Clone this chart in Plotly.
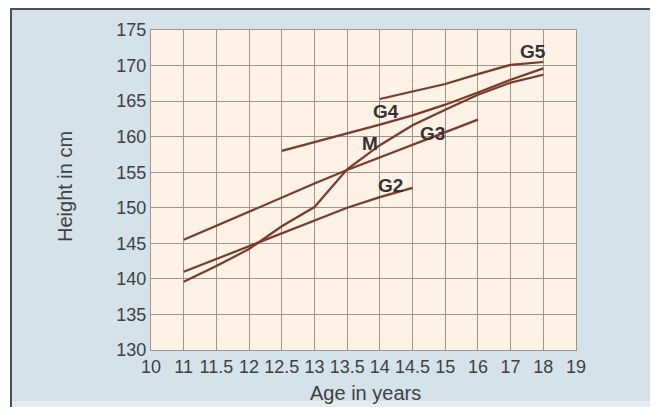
import plotly.graph_objects as go

ages = ["10", "11", "11.5", "12", "12.5", "13", "13.5", "14", "14.5", "15", "16", "17", "18", "19"]

g2_ages = ["11", "11.5", "12", "12.5", "13", "13.5", "14", "14.5"]
g2_height = [141.0, 142.8, 144.6, 146.4, 148.2, 150.0, 151.5, 152.8]

g3_ages = ["11", "11.5", "12", "12.5", "13", "13.5", "14", "14.5", "15", "16"]
g3_height = [145.5, 147.5, 149.5, 151.5, 153.4, 155.3, 157.1, 158.8, 160.6, 162.4]

g4_ages = ["12.5", "13", "13.5", "14", "14.5", "15", "16", "17", "18"]
g4_height = [158.0, 159.2, 160.4, 161.7, 163.0, 164.5, 166.2, 168.0, 169.6]

g5_ages = ["14", "14.5", "15", "16", "17", "18"]
g5_height = [165.3, 166.3, 167.4, 168.8, 170.1, 170.5]

m_ages = ["11", "11.5", "12", "12.5", "13", "13.5", "14", "14.5", "15", "16", "17", "18"]
m_height = [139.6, 141.8, 144.2, 147.4, 150.1, 155.4, 158.8, 161.6, 163.8, 165.9, 167.6, 168.7]

labels = ["G2", "G3", "G4", "M", "G5"]
label_x = [7.32, 8.6, 7.2, 6.7, 11.67]
label_y = [153.2, 160.5, 163.6, 159.0, 172.0]

line_color = "#7b3b2b"
grid_color = "#9e958f"
outer_bg = "#d6e2e9"
plot_bg = "#fef1e6"
text_color = "#404040"
FONT = "Liberation Sans, Arial"

fig = go.Figure()
for xs, ys in [(g2_ages, g2_height), (g3_ages, g3_height), (g4_ages, g4_height),
               (g5_ages, g5_height), (m_ages, m_height)]:
    fig.add_trace(go.Scatter(x=xs, y=ys, mode="lines",
                             line=dict(color=line_color, width=2.2),
                             showlegend=False, hoverinfo="skip"))

for t, xx, yy in zip(labels, label_x, label_y):
    fig.add_annotation(x=xx, y=yy, xref="x", yref="y", text="<b>" + t + "</b>",
                       showarrow=False, xanchor="center", yanchor="middle",
                       font=dict(family=FONT, size=19, color="#333333"))

W, H = 658, 407
L, T = 143, 22
pw, ph = 425, 320
R, B = W - L - pw, H - T - ph


def px(xp):
    return (xp - L) / pw


def py(yp):
    return (T + ph - yp) / ph


# axis titles placed as text
fig.add_annotation(x=px(57), y=py(179), xref="paper", yref="paper", text="Height in cm",
                   textangle=-90, showarrow=False, xanchor="center", yanchor="middle",
                   font=dict(family=FONT, size=20, color=text_color))
fig.add_annotation(x=px(357), y=py(385), xref="paper", yref="paper", text="Age in years",
                   showarrow=False, xanchor="center", yanchor="middle",
                   font=dict(family=FONT, size=20, color=text_color))

shapes = [
    dict(type="rect", xref="paper", yref="paper", x0=px(644), x1=px(W), y0=py(H), y1=py(0),
         fillcolor="#e4ecf0", line=dict(width=0), layer="below"),
    dict(type="rect", xref="paper", yref="paper", x0=px(2), x1=px(W), y0=py(H), y1=py(393),
         fillcolor="#e4ecf0", line=dict(width=0), layer="below"),
    dict(type="line", xref="paper", yref="paper", x0=px(0), x1=px(W), y0=py(1), y1=py(1),
         line=dict(color="#4a5055", width=2), layer="below"),
    dict(type="line", xref="paper", yref="paper", x0=px(3), x1=px(3), y0=py(0), y1=py(H),
         line=dict(color="#4a5055", width=2), layer="below"),
    dict(type="rect", xref="paper", yref="paper", x0=px(0), x1=px(2), y0=py(H), y1=py(0),
         fillcolor="white", line=dict(width=0), layer="below"),
]

fig.update_layout(
    width=W, height=H,
    margin=dict(l=L, r=R, t=T, b=B, pad=0, autoexpand=False),
    paper_bgcolor=outer_bg,
    plot_bgcolor=plot_bg,
    shapes=shapes,
    font=dict(family=FONT, size=18, color=text_color),
    xaxis=dict(
        type="category", categoryorder="array", categoryarray=ages,
        tickvals=ages, ticktext=ages, tickangle=0,
        range=[0, len(ages) - 1], automargin=False,
        showgrid=True, gridcolor=grid_color, gridwidth=1,
        showline=True, linecolor=grid_color, linewidth=1, mirror=True,
        ticks="", tickfont=dict(family=FONT, size=18, color=text_color),
        zeroline=False,
    ),
    yaxis=dict(
        range=[130, 175], dtick=5, tick0=130, automargin=False,
        showgrid=True, gridcolor=grid_color, gridwidth=1,
        showline=True, linecolor=grid_color, linewidth=1, mirror=True,
        ticks="", tickfont=dict(family=FONT, size=18, color=text_color),
        zeroline=False,
    ),
)

fig.write_html("out.html")
